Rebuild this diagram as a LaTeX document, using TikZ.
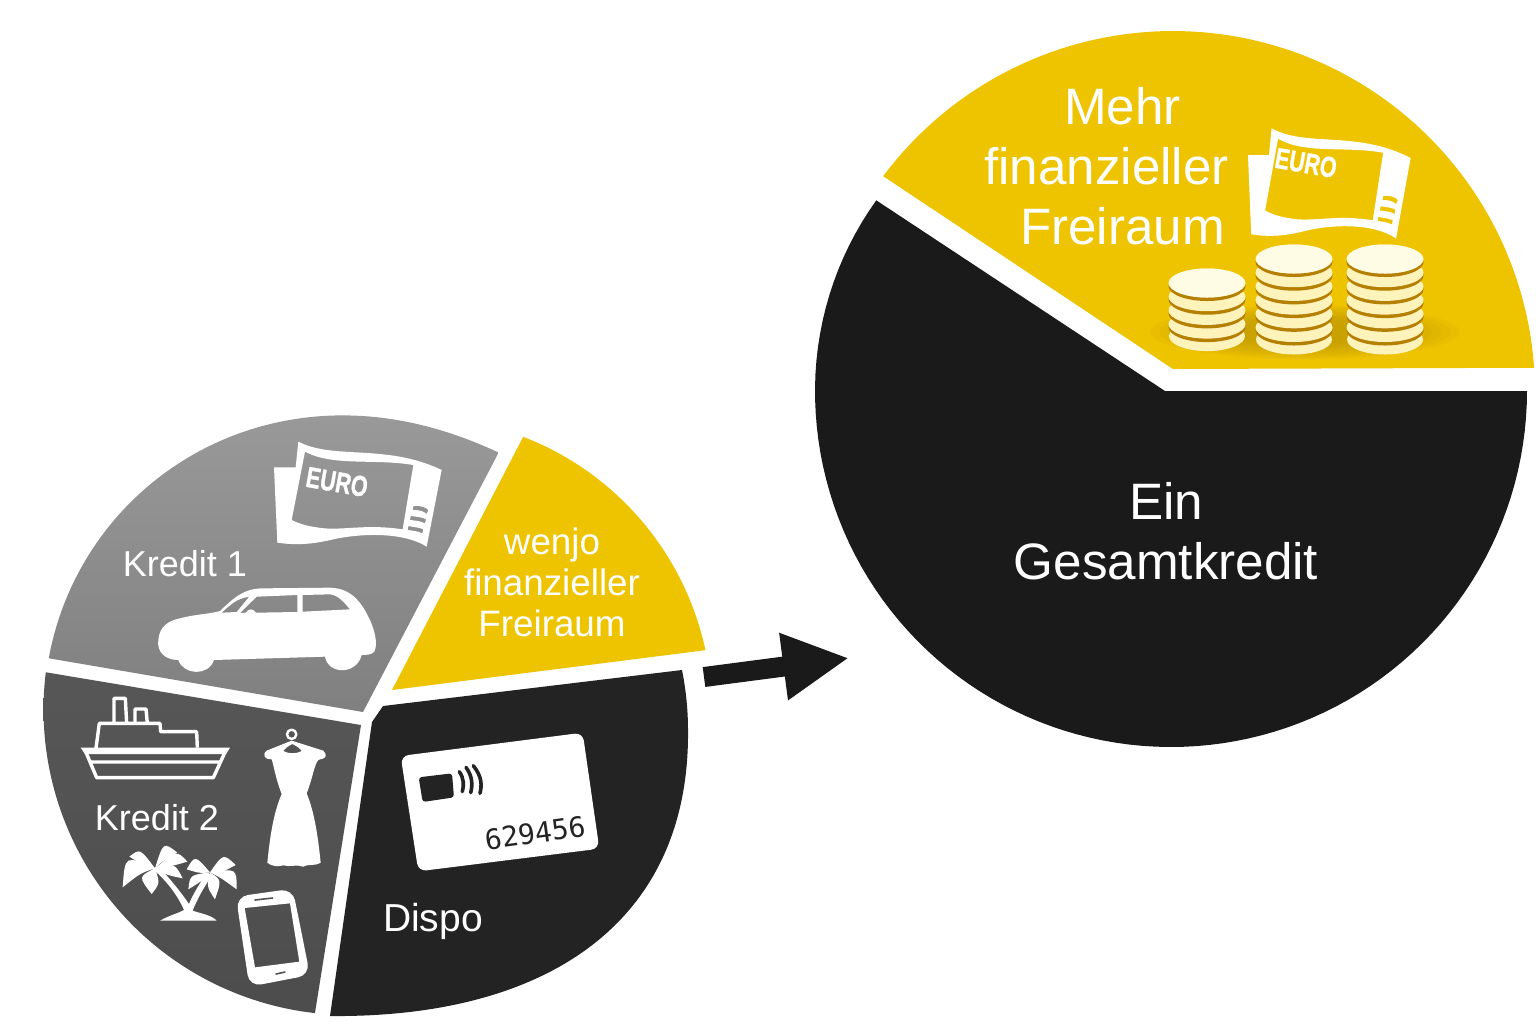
\documentclass[tikz,border=0pt]{standalone}
\usepackage{fontspec}
\usepackage{graphicx}
\setmainfont{Liberation Sans}
\newfontfamily\digitfont{DejaVu Sans Mono}
\newfontfamily\eurofont[FakeBold=1.2]{Liberation Sans}
\usetikzlibrary{arrows.meta}
\definecolor{pieyellow}{HTML}{EEC300}
\definecolor{pieblack}{HTML}{1A1A1A}
\definecolor{dispoblack}{HTML}{232323}
\definecolor{coinrim}{HTML}{B57F00}
\definecolor{coinside}{HTML}{FFF3BC}
\definecolor{cointop}{HTML}{FFFCE6}
\definecolor{coinshade}{HTML}{B08A00}
\tikzset{
  x=0.5pt,y=-0.5pt,
  piecelabel/.style={text=white,font=\fontsize{18}{20.5}\selectfont,align=center,inner sep=0pt},
  yellowlabel/.style={text=white,font=\fontsize{18.4}{20.5}\selectfont,align=center,inner sep=0pt},
  biglabel/.style={text=white,font=\fontsize{25.6}{30}\selectfont,align=center,inner sep=0pt},
  eurolabel/.style={rotate=-10,text=white,inner sep=0pt,font=\eurofont\bfseries\fontsize{14.5}{14.5}\selectfont},
  iconfill/.style={fill=white,draw=none},
  iconline/.style={draw=white,line width=1.7pt,line join=round,fill=none},
  banknote/.pic={
    \fill[iconfill,even odd rule]
      (775,95) .. controls (880,150) and (1040,100) .. (1205,180)
      -- (1160,410) .. controls (1090,365) and (960,370) .. (880,388)
      .. controls (810,405) and (760,405) .. (712,398)
      -- (702,172) -- (767,172) -- cycle
      (795,125) .. controls (880,170) and (1000,145) .. (1120,165)
      -- (1088,358) .. controls (970,340) and (900,365) .. (830,352)
      .. controls (800,348) and (775,340) .. (755,330) -- cycle
      (1120,288) .. controls (1140,286) and (1160,292) .. (1165,300) -- (1160,312) .. controls (1150,302) and (1135,300) .. (1118,300) -- cycle
      (1112,318) .. controls (1130,320) and (1150,322) .. (1158,328) -- (1155,340) .. controls (1140,332) and (1125,332) .. (1110,330) -- cycle
      (1105,348) .. controls (1120,352) and (1140,352) .. (1150,358) -- (1147,370) .. controls (1135,364) and (1120,362) .. (1103,360) -- cycle;
  },
  coinstack/.pic={
    \fill[coinside] (0,{\coincount*13.7+12}) ellipse[x radius=38,y radius=15];
    \foreach \k in {\coincount,...,0}{
      \fill[coinrim] (0,{\k*13.7+3}) ellipse[x radius=38.5,y radius=15];
      \fill[coinside] (0,{\k*13.7}) ellipse[x radius=38.5,y radius=14.5];
    }
    \fill[cointop] (0,0) ellipse[x radius=38,y radius=14.5];
  }
}
\begin{document}
\begin{tikzpicture}
\useasboundingbox (0,0) rectangle (1536,1024);
\fill[white] (0,0) rectangle (1536,1024);

% ---- small pie: four exploded pieces ----
\path[top color=black!40,bottom color=black!50]
  plot[domain=190.3:301.7,samples=70] ({339+(295+9*((\x-190)/112)^8)*cos(\x)},{711+(295+9*((\x-190)/112)^8)*sin(\x)})
  -- (363,712) -- cycle;
\path[top color=black!66,bottom color=black!70]
  plot[domain=187:96.4,samples=70] ({349+305.5*cos(\x)},{709.5+305.5*sin(\x)})
  -- (361,725) -- cycle;
\fill[dispoblack]
  (682,670) .. controls (686,690) and (688,710) .. (688,730)
  .. controls (690,920) and (550,1018) .. (330,1016)
  -- (372,722) -- (383,706) -- cycle;
\fill[pieyellow]
  plot[domain=291.1:347.9,samples=50] ({417+295*cos(\x)},{712+295*sin(\x)})
  -- (392,690) -- cycle;

% ---- large pie ----
\fill[pieyellow]
  plot[domain=216.8:356,samples=80] ({1173+362*cos(\x)},{393+362*sin(\x)})
  -- (1173,369) -- cycle;
\fill[pieblack]
  plot[domain=0:212.9,samples=100] ({1171+(356-5*(max(\x-180,0)/33)^2)*cos(\x)},{391+(356-5*(max(\x-180,0)/33)^2)*sin(\x)})
  -- (1165,391) -- cycle;

% ---- arrow between the two pies ----
\coordinate (arrowtail) at (704,677);
\coordinate (arrowhead) at (849,658);
\draw[pieblack,line width=10pt,-{Triangle[length=33pt,width=31.5pt]}] (arrowtail) -- (arrowhead);

% ---- banknotes ----
\pic at (40,410) [xscale=1/3,yscale=1/3] {banknote};
\node[eurolabel] (euroa) at (337,482) {\scalebox{.74}[1]{EURO}};
\pic at (1021,95) [xscale=.97/3,yscale=1.05/3] {banknote};
\node[eurolabel] (eurob) at (1306,163) {\scalebox{.74}[1]{EURO}};

% ---- car ----
\begin{scope}[shift={(40,410)},scale=1/3]
\fill[iconfill,even odd rule]
  (355,690) .. controls (358,650) and (385,632) .. (420,625)
  .. controls (470,612) and (510,612) .. (540,603)
  .. controls (580,565) and (610,535) .. (670,535)
  -- (870,533) .. controls (930,535) and (960,570) .. (985,620)
  .. controls (1003,655) and (1015,700) .. (1003,725)
  .. controls (995,735) and (975,735) .. (965,735)
  .. controls (950,795) and (865,795) .. (855,740)
  -- (522,750) .. controls (505,800) and (430,795) .. (415,750)
  .. controls (375,750) and (350,725) .. (355,690) -- cycle
  (545,608) .. controls (570,585) and (590,565) .. (628,560) -- (590,606) -- cycle
  (650,560) -- (772,555) -- (772,606) -- (648,608)
  .. controls (640,595) and (625,595) .. (618,608) -- (600,609) -- cycle
  (788,555) -- (870,553) .. controls (895,555) and (915,580) .. (930,598) -- (788,605) -- cycle;
\end{scope}

% ---- ship, dress, palms, phone ----
\begin{scope}[shift={(40,680)},scale=1/3]
\fill[iconfill] (122,203) -- (570,203) -- (558,222) -- (135,222) -- cycle;
\draw[iconline]
  (135,210) -- (170,293) -- (520,293) -- (558,210)
  (150,246) -- (545,246)
  (168,205) -- (178,130) -- (360,130) -- (362,155) -- (470,155) -- (472,203)
  (222,130) -- (222,55) -- (256,55) -- (260,130)
  (285,130) -- (285,87) -- (318,87) -- (322,130);
% dress and hanger
\fill[iconfill,even odd rule]
  (755,182) -- (850,212) .. controls (862,225) and (860,235) .. (840,238)
  .. controls (825,238) and (820,290) .. (800,340)
  .. controls (825,400) and (835,480) .. (842,548)
  .. controls (820,560) and (810,550) .. (790,560)
  .. controls (770,552) and (750,562) .. (730,556)
  .. controls (715,560) and (695,560) .. (682,548)
  .. controls (690,470) and (700,400) .. (725,342)
  .. controls (705,290) and (700,250) .. (695,238)
  .. controls (675,240) and (665,225) .. (680,212) -- cycle
  (757,192) .. controls (745,198) and (735,205) .. (730,213) .. controls (745,222) and (770,222) .. (785,213) .. controls (780,205) and (770,198) .. (757,192) -- cycle;
\draw[iconline,line width=1.2pt] (755,163) circle[radius=14];
% palms
\fill[iconfill]
  (360,722) .. controls (390,705) and (415,700) .. (432,690)
  .. controls (415,650) and (380,600) .. (335,565) -- (355,560)
  .. controls (390,595) and (425,640) .. (447,672)
  .. controls (460,640) and (480,610) .. (500,578) -- (516,585)
  .. controls (490,625) and (470,660) .. (458,692)
  .. controls (480,700) and (515,705) .. (530,722) -- cycle;
\foreach \ux/\uy/\tx/\ty/\lx/\ly in {
    255/525/248/622/300/580, 300/505/268/530/325/565, 370/485/412/518/365/545,
    410/510/442/545/390/560, 295/590/335/642/360/610, 405/550/428/595/380/585}
  \fill[iconfill] (345,565) .. controls (\ux,\uy) .. (\tx,\ty) .. controls (\lx,\ly) .. (345,565);
\foreach \ux/\uy/\tx/\ty/\lx/\ly in {
    465/525/440/568/480/580, 550/520/587/555/540/580, 590/565/590/628/545/595,
    450/585/445/628/490/600, 545/600/525/658/500/620}
  \fill[iconfill] (510,577) .. controls (\ux,\uy) .. (\tx,\ty) .. controls (\lx,\ly) .. (510,577);
% phone
\fill[iconfill,even odd rule,rounded corners=6pt]
  (588,650) -- (758,626) -- (810,885) -- (628,920) -- cycle
  [sharp corners]
  (614,684) -- (750,670) -- (778,845) -- (645,862) -- cycle;
\draw[black!68,line width=.8pt,line cap=round] (645,660) -- (698,654) (708,882) -- (735,876);
\end{scope}

% ---- payment card ----
\begin{scope}[shift={(380,620)},scale=1/3]
\fill[iconfill,rounded corners=4pt] (62,408) -- (608,338) -- (658,686) -- (115,754) -- cycle;
\fill[dispoblack,rounded corners=1.5pt] (116,472) -- (216,460) -- (222,532) -- (128,546) -- cycle;
\draw[dispoblack,line width=1.8pt,line cap=round]
  (238,455) .. controls (252,475) and (252,495) .. (247,515)
  (258,442) .. controls (278,470) and (278,495) .. (272,518)
  (280,437) .. controls (306,470) and (306,495) .. (300,520);
\end{scope}
\node[rotate=8,text=dispoblack,inner sep=0pt,font=\digitfont\fontsize{14}{14}\selectfont] (cardnumber) at (535,833) {629456};

% ---- coins and the soft shadow under them ----
\foreach \s in {1,.94,.88,.82,.76,.7,.64,.58,.52,.46}
  \fill[coinshade,opacity=.07] (1305,332) ellipse[x radius=\s*155,y radius=\s*27];
\def\coincount{3}
\pic at (1207,283) {coinstack};
\def\coincount{5}
\pic at (1294,259) {coinstack};
\pic at (1385,259) {coinstack};

% ---- labels ----
\node[piecelabel] (kredita) at (185,564) {Kredit 1};
\node[piecelabel] (kreditb) at (157,818) {Kredit 2};
\node[piecelabel,font=\fontsize{19.5}{20.5}\selectfont] (dispo) at (433,921) {Dispo};
\node[yellowlabel] (wenjo) at (552,582) {wenjo\\finanzieller\\Freiraum};
\node[biglabel] (mehr) at (1122.5,166) {Mehr\\finanzieller\rule{16pt}{0pt}\\Freiraum};
\node[biglabel] (gesamt) at (1166,531) {Ein\\Gesamtkredit};
\end{tikzpicture}
\end{document}
